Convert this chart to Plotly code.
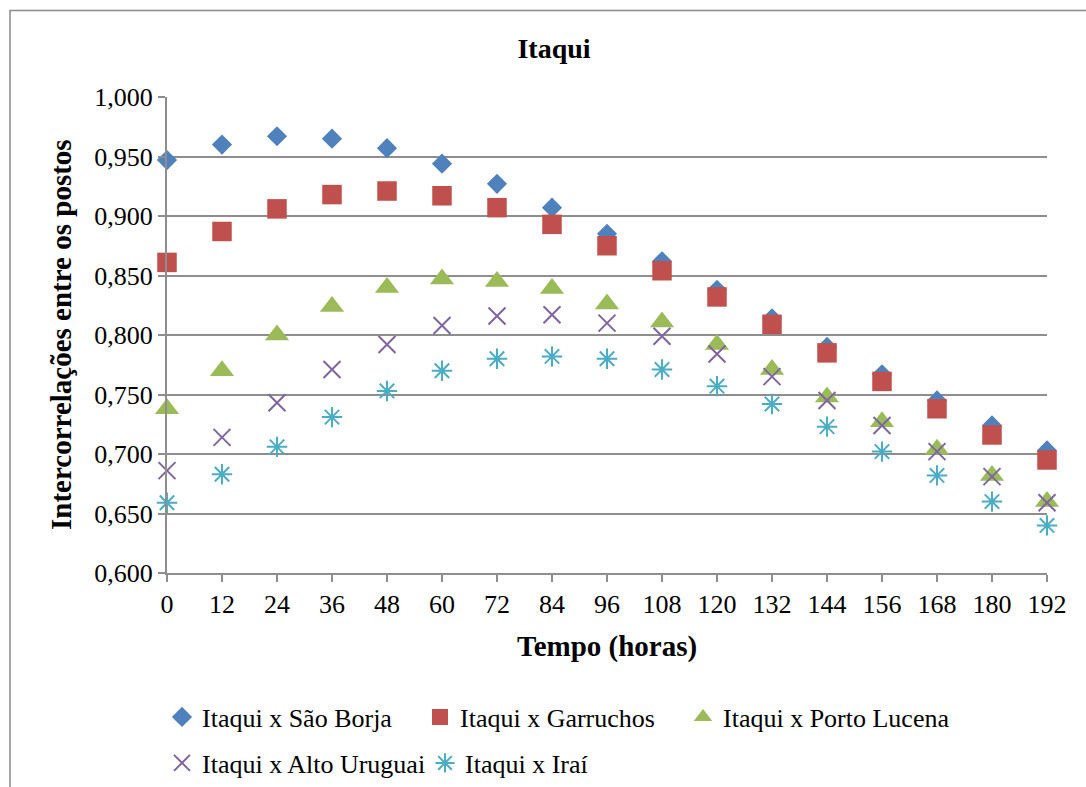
import plotly.graph_objects as go

# Lead times (hours)
horas = [0, 12, 24, 36, 48, 60, 72, 84, 96, 108, 120, 132, 144, 156, 168, 180, 192]

# Cross-correlations between Itaqui and each station
sao_borja = [0.947, 0.960, 0.967, 0.965, 0.957, 0.944, 0.927, 0.907, 0.885,
             0.862, 0.838, 0.814, 0.790, 0.767, 0.745, 0.724, 0.703]
garruchos = [0.861, 0.887, 0.906, 0.918, 0.921, 0.917, 0.907, 0.893, 0.875,
             0.854, 0.832, 0.809, 0.785, 0.761, 0.738, 0.716, 0.695]
porto_lucena = [0.738, 0.770, 0.800, 0.824, 0.840, 0.847, 0.845, 0.839, 0.826,
                0.811, 0.792, 0.771, 0.748, 0.727, 0.704, 0.682, 0.660]
alto_uruguai = [0.686, 0.714, 0.743, 0.771, 0.792, 0.808, 0.816, 0.817, 0.810,
                0.799, 0.784, 0.765, 0.745, 0.724, 0.702, 0.681, 0.659]
irai = [0.659, 0.683, 0.706, 0.731, 0.753, 0.770, 0.780, 0.782, 0.780,
        0.771, 0.757, 0.742, 0.723, 0.702, 0.682, 0.660, 0.640]

series_names = ["Itaqui x São Borja", "Itaqui x Garruchos", "Itaqui x Porto Lucena",
                "Itaqui x Alto Uruguai", "Itaqui x Iraí"]
series_values = [sao_borja, garruchos, porto_lucena, alto_uruguai, irai]

FONT = "Liberation Serif, Times New Roman, serif"
GRID = "#8e8e8e"

styles = [
    dict(symbol="diamond", size=15.5, color="#4F81BD", line=dict(width=0)),
    dict(symbol="square", size=19.5, color="#C0504D", line=dict(width=0)),
    dict(symbol="triangle-up", size=21, color="#9BBB59", line=dict(width=0)),
    dict(symbol="x-thin", size=17, color="#8064A2", line=dict(color="#8064A2", width=2)),
    dict(symbol="asterisk", size=17, color="#4BACC6", line=dict(color="#4BACC6", width=2)),
]
legend_ids = ["legend", "legend", "legend", "legend2", "legend2"]
# width of each legend entry (text part), so that the columns line up
entry_widths = [213, 218, 270, 218, 200]

fig = go.Figure()
for name, vals, st, lg, ew in zip(series_names, series_values, styles, legend_ids, entry_widths):
    fig.add_trace(go.Scatter(
        x=horas, y=vals, mode="markers", name=name, marker=st,
        cliponaxis=False, legend=lg, legendwidth=ew,
    ))

legend_common = dict(
    orientation="h", xref="paper", yref="paper", xanchor="left", yanchor="middle",
    font=dict(family=FONT, size=26, color="#000000"),
    bgcolor="rgba(0,0,0,0)", itemwidth=30,
    tracegroupgap=0,
)

fig.update_layout(
    width=1086, height=787,
    margin=dict(l=167, r=39, t=97, b=214, autoexpand=False),
    paper_bgcolor="white", plot_bgcolor="white",
    separators=",.",
    font=dict(family=FONT, size=26, color="#000000"),
    title=dict(text="<b>Itaqui</b>", x=554 / 1086, xref="container", xanchor="center",
               y=1 - 48 / 787, yref="container", yanchor="middle",
               font=dict(family=FONT, size=28, color="#000000")),
    xaxis=dict(
        range=[0, 192], tickmode="array", tickvals=horas,
        ticks="outside", ticklen=7, tickwidth=2, tickcolor=GRID,
        showline=True, linecolor=GRID, linewidth=2,
        showgrid=False, zeroline=False,
        tickfont=dict(family=FONT, size=26, color="#000000"),
    ),
    yaxis=dict(
        range=[0.6, 1.0], dtick=0.05, tick0=0.6, tickformat=".3f",
        ticks="outside", ticklen=7, tickwidth=2, tickcolor=GRID,
        showline=True, linecolor=GRID, linewidth=2,
        showgrid=True, gridcolor=GRID, gridwidth=2, zeroline=False,
        tickfont=dict(family=FONT, size=26, color="#000000"),
    ),
    legend=dict(x=(162 - 167) / 880, y=(573 - 717) / 476, **legend_common),
    legend2=dict(x=(162 - 167) / 880, y=(573 - 763) / 476, **legend_common),
    annotations=[
        dict(text="<b>Tempo (horas)</b>", xref="paper", yref="paper",
             x=0.5, y=(573 - 646) / 476, xanchor="center", yanchor="middle",
             showarrow=False, font=dict(family=FONT, size=29, color="#000000")),
        dict(text="<b>Intercorrelações entre os postos</b>", xref="paper", yref="paper",
             x=(61 - 167) / 880, y=0.5, xanchor="center", yanchor="middle",
             textangle=-90, showarrow=False,
             font=dict(family=FONT, size=29, color="#000000")),
    ],
    shapes=[
        dict(type="rect", xref="paper", yref="paper",
             x0=(10 - 167) / 880, x1=(1095 - 167) / 880,
             y0=(573 - 800) / 476, y1=(573 - 10.5) / 476,
             line=dict(color="#8a8a8a", width=1.5), fillcolor="rgba(0,0,0,0)",
             layer="below"),
    ],
)

fig.write_html("out.html")
